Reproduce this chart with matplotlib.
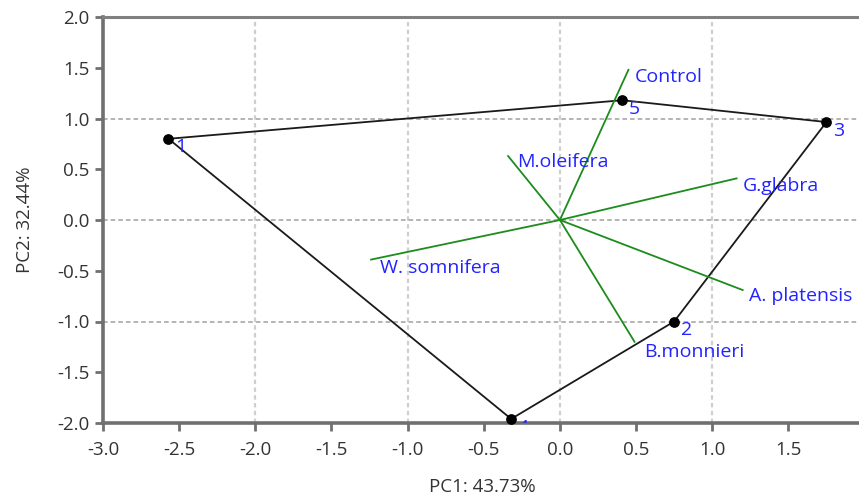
import matplotlib
matplotlib.use("Agg")
import matplotlib.pyplot as plt

# Sample scores (PC1, PC2)
sample_ids = ["1", "2", "3", "4", "5"]
pc1_scores = [-2.57, 0.75, 1.75, -0.32, 0.41]
pc2_scores = [0.80, -1.00, 0.965, -1.96, 1.18]

# Convex hull drawing order of the samples
hull_order = ["1", "5", "3", "2", "4", "1"]

# Variable loadings (biplot arrows)
variables = ["Control", "M.oleifera", "G.glabra", "A. platensis", "B.monnieri", "W. somnifera"]
load_pc1 = [0.45, -0.34, 1.16, 1.20, 0.49, -1.24]
load_pc2 = [1.48, 0.63, 0.41, -0.69, -1.20, -0.39]

x_ticks = [-3.0, -2.5, -2.0, -1.5, -1.0, -0.5, 0.0, 0.5, 1.0, 1.5]
y_ticks = [-2.0, -1.5, -1.0, -0.5, 0.0, 0.5, 1.0, 1.5, 2.0]
grid_x = [-2.0, -1.0, 0.0, 1.0]
grid_y = [-1.0, 0.0, 1.0]

plt.rcParams["font.family"] = ["Open Sans", "DejaVu Sans"]

W, H = 859, 504
fig = plt.figure(figsize=(W / 100, H / 100), dpi=100)
ax = fig.add_axes([103 / W, (H - 423) / H, (W - 103) / W + 0.002, (423 - 17) / H])

ax.set_xlim(-3.0, 1.975)
ax.set_ylim(-2.0, 2.0)

for gx in grid_x:
    ax.axvline(gx, color="#cfcfcf", lw=1.6, ls=(0, (2, 1.5)), zorder=0)
for gy in grid_y:
    ax.axhline(gy, color="#a0a0a0", lw=1.1, ls=(0, (3, 2)), zorder=0)

# Hull around the samples
idx = {s: i for i, s in enumerate(sample_ids)}
hx = [pc1_scores[idx[s]] for s in hull_order]
hy = [pc2_scores[idx[s]] for s in hull_order]
ax.plot(hx, hy, color="#1a1a1a", lw=1.3, zorder=2, clip_on=False)

# Loading vectors
label_offsets = {
    "Control": (0.04, -0.07),
    "M.oleifera": (0.06, -0.06),
    "G.glabra": (0.04, -0.075),
    "A. platensis": (0.04, -0.06),
    "B.monnieri": (0.06, -0.10),
    "W. somnifera": (0.06, -0.08),
}
for name, vx, vy in zip(variables, load_pc1, load_pc2):
    ax.plot([0, vx], [0, vy], color="#1c8c1c", lw=1.3, zorder=3)
    dx, dy = label_offsets[name]
    ax.text(vx + dx, vy + dy, name, color="#2323ff", fontsize=14,
            ha="left", va="center", zorder=4)

# Sample points
ax.scatter(pc1_scores, pc2_scores, s=45, color="black", zorder=5, clip_on=False)
for s, x, y in zip(sample_ids, pc1_scores, pc2_scores):
    ax.text(x + 0.045, y - 0.085, s, color="#2323ff", fontsize=14,
            ha="left", va="center", zorder=6, clip_on=True)

ax.set_xticks(x_ticks)
ax.set_yticks(y_ticks)
ax.set_xticklabels([f"{v:.1f}" for v in x_ticks])
ax.set_yticklabels([f"{v:.1f}" for v in y_ticks])
ax.tick_params(axis="both", colors="#707070", labelcolor="#333333",
               length=6, width=2, labelsize=13.5, direction="out")
ax.tick_params(axis="x", pad=7)
ax.tick_params(axis="y", pad=3.5)

for side in ["left", "bottom"]:
    ax.spines[side].set_color("#707070")
    ax.spines[side].set_linewidth(2.6)
ax.spines["top"].set_color("#808080")
ax.spines["top"].set_linewidth(2.2)
ax.spines["right"].set_visible(False)

ax.set_xlabel("PC1: 43.73%", fontsize=13.5, color="#333333", labelpad=14)
ax.set_ylabel("PC2: 32.44%", fontsize=13.5, color="#333333", labelpad=17)

fig.savefig("out.png", dpi=100)
